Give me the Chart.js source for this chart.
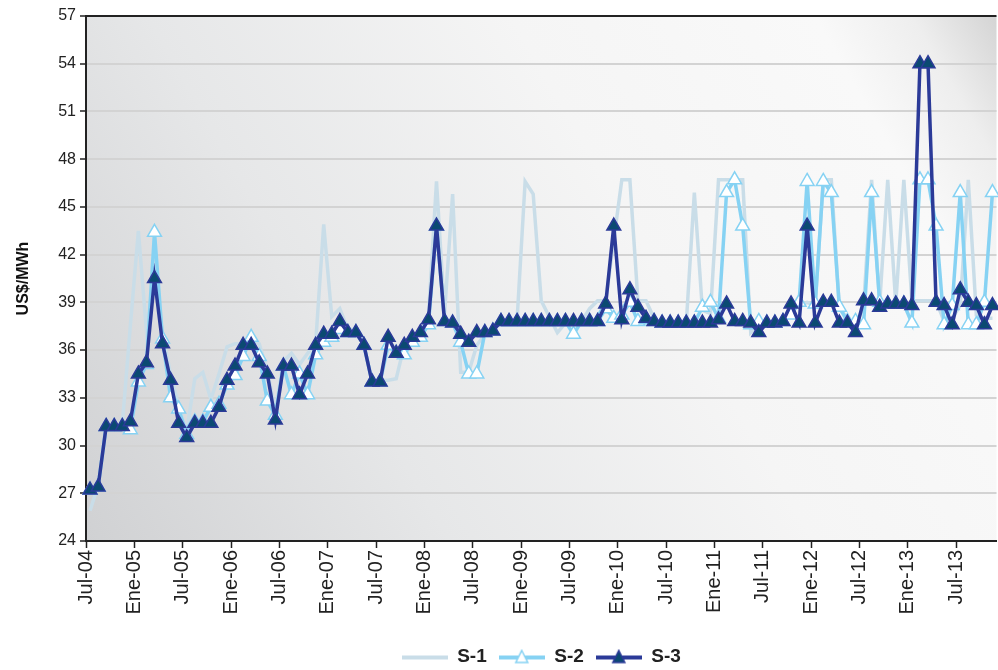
<!DOCTYPE html>
<html lang="es">
<head>
    <meta charset="UTF-8">
    <script src="https://cdn.jsdelivr.net/npm/chart.js"></script>
    <title>S-1, S-2, S-3 (US$/MWh)</title>
    <style>
        body {
            margin: 0;
            padding: 0;
            background: #ffffff;
            overflow: hidden;
        }

        /* algo más ancho y alto que la ventana: el gráfico original está recortado a la derecha */
        .contenedor {
            width: 1006px;
            height: 676px;
            position: relative;
        }
    </style>
</head>
<body>
    <div class="contenedor">
        <canvas id="grafico"></canvas>
    </div>

    <script>
        // Meses en español y primer mes de la serie (Jul-04)
        const meses = ['Ene', 'Feb', 'Mar', 'Abr', 'May', 'Jun', 'Jul', 'Ago', 'Sep', 'Oct', 'Nov', 'Dic'];
        const mesInicial = 6;
        const anioInicial = 2004;

        // Valores (US$/MWh), un punto por mes
        const serie1 = [
            25.9, 27.5, 31.2, 31.2, 31.3, 37.5, 43.5, 37.2, 41.0, 37.0, 34.5, 32.5,
            30.9, 34.2, 34.6, 32.9, 34.5, 36.2, 36.4, 36.4, 36.6, 36.4, 34.7, 32.2,
            35.3, 35.8, 35.1, 35.8, 36.4, 43.9, 38.1, 38.6, 37.3, 37.3, 36.3, 34.1,
            34.1, 34.1, 34.2, 36.3, 36.8, 37.1, 38.1, 46.6, 38.3, 45.8, 34.6, 34.6,
            36.3, 37.0, 37.4, 37.8, 37.8, 37.9, 46.6, 45.8, 39.1, 38.1, 37.1, 37.7,
            37.8, 37.8, 38.6, 39.1, 39.1, 42.9, 46.7, 46.7, 39.1, 39.1, 38.0, 37.6,
            37.6, 37.6, 37.7, 45.9, 38.5, 38.3, 46.7, 46.7, 46.7, 46.7, 37.1, 37.6,
            37.7, 37.7, 37.8, 38.5, 38.8, 39.0, 38.8, 46.7, 46.7, 38.6, 38.0, 37.6,
            38.7, 46.7, 38.9, 46.7, 38.9, 46.7, 39.1, 39.1, 39.1, 39.1, 37.8, 38.0,
            38.8, 46.7, 38.2, 38.0, 38.0
        ];

        const serie2 = [
            27.2, 27.4, 31.2, 31.2, 31.2, 31.0, 34.0, 35.1, 43.4, 36.7, 33.0, 32.3,
            30.7, 31.5, 31.5, 32.4, 32.6, 33.8, 34.4, 35.6, 36.8, 35.6, 32.8, 31.9,
            35.0, 33.2, 34.5, 33.2, 35.7, 36.5, 36.8, 37.3, 37.1, 37.1, 36.3, 34.0,
            34.0, 36.3, 35.8, 35.7, 36.5, 36.8, 37.6, 43.8, 37.8, 37.7, 36.5, 34.5,
            34.5, 37.1, 37.2, 37.8, 37.8, 37.8, 37.8, 37.8, 37.8, 37.8, 37.8, 37.8,
            37.0, 37.8, 37.8, 37.8, 38.6, 38.0, 38.2, 39.0, 37.8, 37.9, 37.8, 37.7,
            37.7, 37.7, 37.7, 37.7, 38.7, 39.0, 38.0, 45.9, 46.7, 43.8, 37.6, 37.8,
            37.7, 37.7, 37.8, 38.2, 39.0, 46.6, 38.9, 46.6, 45.9, 38.7, 37.8, 37.8,
            37.6, 45.9, 39.0, 38.9, 38.9, 38.9, 37.7, 46.7, 46.7, 43.8, 37.6, 38.8,
            45.9, 37.6, 37.6, 39.0, 45.9
        ];

        const serie3 = [
            27.2, 27.4, 31.2, 31.2, 31.2, 31.5, 34.5, 35.2, 40.5, 36.4, 34.1, 31.4,
            30.5, 31.4, 31.4, 31.4, 32.4, 34.1, 35.0, 36.3, 36.3, 35.2, 34.5, 31.6,
            35.0, 35.0, 33.2, 34.5, 36.3, 37.0, 37.0, 37.8, 37.1, 37.1, 36.3, 34.0,
            34.0, 36.8, 35.8, 36.3, 36.8, 37.1, 37.9, 43.8, 37.8, 37.7, 37.0, 36.5,
            37.1, 37.1, 37.2, 37.8, 37.8, 37.8, 37.8, 37.8, 37.8, 37.8, 37.8, 37.8,
            37.8, 37.8, 37.8, 37.8, 38.9, 43.8, 37.9, 39.8, 38.7, 38.0, 37.8, 37.7,
            37.7, 37.7, 37.7, 37.7, 37.7, 37.7, 37.9, 38.9, 37.8, 37.8, 37.7, 37.1,
            37.7, 37.7, 37.8, 38.9, 37.7, 43.8, 37.7, 39.0, 39.0, 37.7, 37.7, 37.1,
            39.1, 39.1, 38.7, 38.9, 38.9, 38.9, 38.8, 54.0, 54.0, 39.0, 38.8, 37.6,
            39.8, 39.0, 38.8, 37.6, 38.8
        ];

        // Eje Y: 24 a 57 cada 3
        const yMin = 24;
        const yMax = 57;
        const yPaso = 3;

        const categorias = serie1.map((_, i) => {
            const m = mesInicial + i;
            const anio = anioInicial + Math.floor(m / 12);
            return meses[m % 12] + '-' + String(anio).slice(2);
        });

        // Pequeña muestra para la leyenda: línea con triángulo
        function muestraLeyenda(colorLinea, colorRelleno, colorBorde) {
            const c = document.createElement('canvas');
            c.width = 46;
            c.height = 16;
            const g = c.getContext('2d');
            g.strokeStyle = colorLinea;
            g.lineWidth = 4;
            g.beginPath();
            g.moveTo(0, 9);
            g.lineTo(46, 9);
            g.stroke();
            if (colorRelleno) {
                g.fillStyle = colorRelleno;
                g.strokeStyle = colorBorde;
                g.lineWidth = 1.5;
                g.beginPath();
                g.moveTo(23, 2);
                g.lineTo(29, 14);
                g.lineTo(17, 14);
                g.closePath();
                g.fill();
                g.stroke();
            }
            return c;
        }

        const fondo = {
            id: 'fondo',
            beforeDraw(chart) {
                const { ctx, chartArea: a } = chart;
                const g = ctx.createLinearGradient(a.left, a.bottom, a.right, a.top);
                g.addColorStop(0, '#d0d1d3');
                g.addColorStop(0.3, '#e6e7e8');
                g.addColorStop(0.6, '#f5f5f5');
                g.addColorStop(0.85, '#f9f9f9');
                g.addColorStop(0.93, '#eeeeee');
                g.addColorStop(1, '#d4d4d4');
                ctx.save();
                ctx.fillStyle = g;
                ctx.fillRect(a.left, a.top, a.width, a.height);
                ctx.restore();
            }
        };

        new Chart(document.getElementById('grafico').getContext('2d'), {
            type: 'line',
            data: {
                labels: categorias,
                datasets: [{
                    label: 'S-1',
                    data: serie1,
                    borderColor: '#c9dde8',
                    borderWidth: 3.5,
                    pointRadius: 0,
                    tension: 0,
                    order: 2
                }, {
                    label: 'S-2',
                    data: serie2,
                    borderColor: '#86d2f3',
                    borderWidth: 3.5,
                    pointStyle: 'triangle',
                    pointRadius: 8,
                    pointBackgroundColor: '#ffffff',
                    pointBorderColor: '#86d2f3',
                    pointBorderWidth: 1.5,
                    tension: 0,
                    order: 1
                }, {
                    label: 'S-3',
                    data: serie3,
                    borderColor: '#2b3a98',
                    borderWidth: 3.5,
                    pointStyle: 'triangle',
                    pointRadius: 8,
                    pointBackgroundColor: '#0b4a72',
                    pointBorderColor: '#2b3a98',
                    pointBorderWidth: 1.5,
                    tension: 0,
                    order: 0
                }]
            },
            options: {
                responsive: true,
                maintainAspectRatio: false,
                animation: false,
                layout: {
                    padding: { top: 16, right: 0, bottom: 0, left: 0 }
                },
                plugins: {
                    tooltip: { enabled: false },
                    legend: {
                        position: 'bottom',
                        fullSize: false,
                        labels: {
                            usePointStyle: true,
                            pointStyleWidth: 46,
                            padding: 12,
                            color: '#222',
                            font: { family: "'Liberation Sans Narrow', 'Liberation Sans', Arial, sans-serif", size: 19, weight: 'bold' },
                            sort: (a, b) => a.datasetIndex - b.datasetIndex,
                            generateLabels: (chart) => chart.data.datasets.map((ds, i) => ({
                                text: ds.label,
                                datasetIndex: i,
                                fontColor: '#222',
                                lineWidth: 0,
                                strokeStyle: 'transparent',
                                fillStyle: 'transparent',
                                pointStyle: i === 0 ? muestraLeyenda('#c9dde8')
                                    : i === 1 ? muestraLeyenda('#86d2f3', '#ffffff', '#86d2f3')
                                    : muestraLeyenda('#2b3a98', '#0b4a72', '#2b3a98')
                            }))
                        }
                    }
                },
                scales: {
                    x: {
                        offset: true,
                        afterFit: (scale) => {
                            scale.height = 94;
                            scale.paddingLeft = 0;
                            scale.paddingRight = 0;
                        },
                        grid: {
                            offset: true,
                            drawOnChartArea: false,
                            tickLength: 7,
                            tickWidth: 1.5,
                            tickColor: (ctx) => ctx.index % 6 === 0 ? '#222' : 'rgba(0,0,0,0)'
                        },
                        border: { color: '#222', width: 2 },
                        ticks: {
                            autoSkip: false,
                            minRotation: 90,
                            maxRotation: 90,
                            labelOffset: -4,
                            padding: 2,
                            color: '#222',
                            font: { family: "'Liberation Sans', Arial, sans-serif", size: 20 },
                            callback: function (valor, i) {
                                return i % 6 === 0 ? this.getLabelForValue(valor) : '';
                            }
                        }
                    },
                    y: {
                        min: yMin,
                        max: yMax,
                        afterFit: (scale) => { scale.width = 86; },
                        title: {
                            display: true,
                            text: 'US$/MWh',
                            color: '#111',
                            padding: { top: 14, bottom: 0 },
                            font: { family: "'Liberation Sans', Arial, sans-serif", size: 16, weight: 'bold' }
                        },
                        grid: {
                            color: (ctx) => ctx.tick && ctx.tick.value === yMax ? '#222' : '#d3d3d3',
                            lineWidth: 2,
                            tickLength: 6,
                            tickColor: '#222',
                            tickWidth: 1.5
                        },
                        border: { color: '#222', width: 2 },
                        ticks: {
                            stepSize: yPaso,
                            padding: 4,
                            color: '#222',
                            font: { family: "'Liberation Sans', Arial, sans-serif", size: 16 }
                        }
                    }
                }
            },
            plugins: [fondo]
        });
    </script>
</body>
</html>
